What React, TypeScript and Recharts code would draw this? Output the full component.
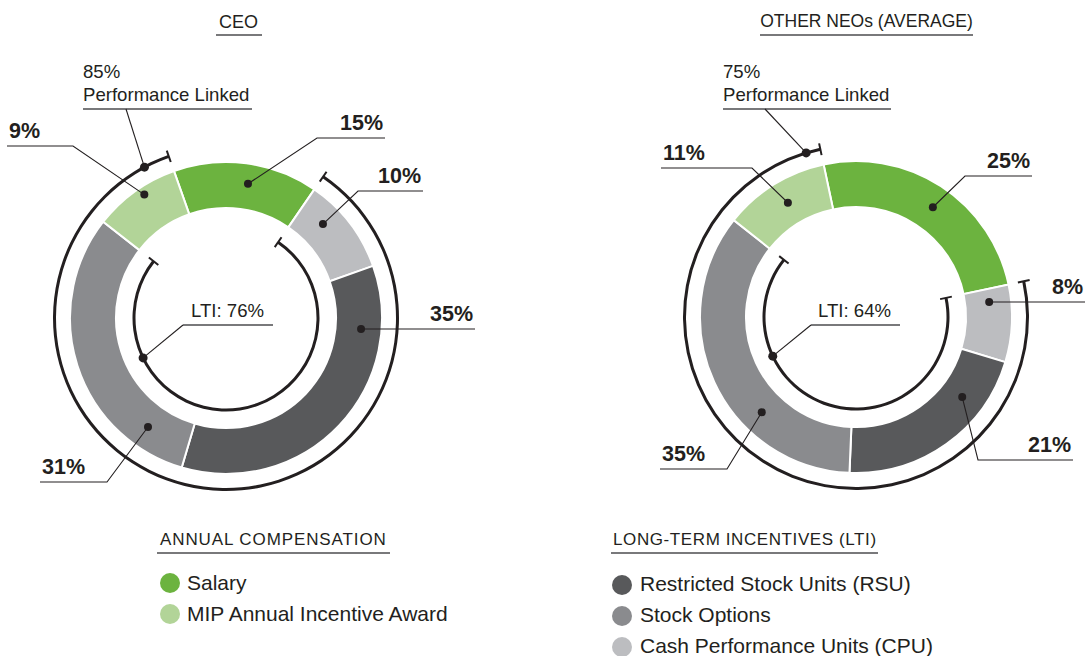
import React from "react";
import { PieChart, Pie, Cell } from "recharts";

// ---- data ----
const categories = [
  "Salary",
  "Cash Performance Units (CPU)",
  "Restricted Stock Units (RSU)",
  "Stock Options",
  "MIP Annual Incentive Award",
];
const ceoValues = [15, 10, 35, 31, 9];
const neoValues = [25, 8, 21, 35, 11];
const colors = ["#6cb33f", "#bcbdc0", "#58595b", "#8a8b8e", "#b2d498"];
const ltiIndex = [1, 2, 3]; // CPU, RSU, Options
const chartTitles = ["CEO", "OTHER NEOs (AVERAGE)"];
const annualLegend = ["Salary", "MIP Annual Incentive Award"];
const annualLegendColors = [colors[0], colors[4]];
const ltiLegend = ["Restricted Stock Units (RSU)", "Stock Options", "Cash Performance Units (CPU)"];
const ltiLegendColors = [colors[2], colors[3], colors[1]];

const FONT = "'Liberation Sans', Arial, Helvetica, sans-serif";
const INK = "#231f20";
const RULE = "#4d4d4f";

// label layout (offsets relative to each donut's centre)
const ceoLayout = [
  { off: 1.8, r: 136, ex: 91, ey: -180, end: 159 },
  { off: -6.6, r: 135, ex: 132, ey: -127, end: 197 },
  { off: -38.8, r: 135.5, ex: 135, ey: 11, end: 249 },
  { off: -36.7, r: 134, ex: -119, ey: 164, end: -186 },
  { off: 2.2, r: 148, ex: -153, ey: -172, end: -219 },
];
const neoLayout = [
  { off: 2, r: 134, ex: 109, ey: -141, end: 176 },
  { off: -8.8, r: 134, ex: 133, ey: -15, end: 229 },
  { off: -17.6, r: 133, ex: 122, ey: 143, end: 217 },
  { off: -20.7, r: 134, ex: -129, ey: 152, end: -196 },
  { off: 1, r: 133, ex: -104, ey: -149, end: -195 },
];
const perfLayout = [
  { off: -8.9, ex: -100, ey: -209, u1: -143, u2: 26, tx: -143 },
  { off: -4.9, ex: -91, ey: -208, u1: -133, u2: 35, tx: -133 },
];
const ltiLayout = [
  { off: -63.8, ex: -43, ey: 7, u1: -43, u2: 47, tx: -35 },
  { off: -63.6, ex: -45, ey: 8, u1: -45, u2: 44, tx: -38 },
];

const charts = [
  { values: ceoValues, cx: 226, cy: 318, start: 109.5, layout: ceoLayout },
  { values: neoValues, cx: 856, cy: 317, start: 102, layout: neoLayout },
];

const rad = (d: number) => (d * Math.PI) / 180;
// recharts angle (ccw from 3 o'clock) -> point
const polar = (cx: number, cy: number, r: number, a: number) => ({
  x: cx + r * Math.cos(rad(a)),
  y: cy - r * Math.sin(rad(a)),
});

function Tick({ cx, cy, r, a }: any) {
  const p1 = polar(cx, cy, r - 6, a);
  const p2 = polar(cx, cy, r + 6, a);
  return <line x1={p1.x} y1={p1.y} x2={p2.x} y2={p2.y} stroke={INK} strokeWidth={2} />;
}

function sliceLabel(layout: any[], values: number[]) {
  return (props: any) => {
    const { cx, cy, startAngle, endAngle, index } = props;
    const l = layout[index];
    const mid = (startAngle + endAngle) / 2;
    const d = polar(cx, cy, l.r, mid - l.off);
    const ex = cx + l.ex;
    const ey = cy + l.ey;
    const endX = cx + l.end;
    const right = l.end > 0;
    return (
      <g>
        <polyline
          points={`${d.x},${d.y} ${ex},${ey} ${endX},${ey}`}
          fill="none"
          stroke={INK}
          strokeWidth={1.1}
        />
        <circle cx={d.x} cy={d.y} r={4} fill={INK} />
        <text
          x={right ? endX - 2 : endX + 2}
          y={ey - 8.5}
          textAnchor={right ? "end" : "start"}
          fontFamily={FONT}
          fontSize={21.5}
          fontWeight={700}
          fill={INK}
        >
          {values[index]}%
        </text>
      </g>
    );
  };
}

function ringLabel(ring: any[], lay: any, lines: string[], ringR: number) {
  return (props: any) => {
    const { cx, cy, startAngle, endAngle, index } = props;
    if (!ring[index].on) return <g />;
    const d = polar(cx, cy, ringR, endAngle - lay.off);
    const ex = cx + lay.ex;
    const ey = cy + lay.ey;
    return (
      <g>
        <Tick cx={cx} cy={cy} r={ringR} a={startAngle} />
        <Tick cx={cx} cy={cy} r={ringR} a={endAngle} />
        <line x1={cx + lay.u1} y1={ey} x2={cx + lay.u2} y2={ey} stroke={RULE} strokeWidth={1.6} />
        <line x1={d.x} y1={d.y} x2={ex} y2={ey} stroke={INK} strokeWidth={1.1} />
        <circle cx={d.x} cy={d.y} r={4.5} fill={INK} />
        {lines.map((t, i) => (
          <text
            key={i}
            x={cx + lay.tx}
            y={ey - 8 - (lines.length - 1 - i) * 23}
            fontFamily={FONT}
            fontSize={18.6}
            fill={INK}
          >
            {t}
          </text>
        ))}
      </g>
    );
  };
}

export default function App() {
  return (
    <div style={{ position: "absolute", left: 0, top: 0, width: 1092, height: 656, background: "#fff" }}>
      <PieChart width={1092} height={656} margin={{ top: 0, right: 0, bottom: 0, left: 0 }}>
        {charts.map((c, ci) => {
          const data = c.values.map((v, i) => ({ name: categories[i], value: v }));
          const salary = c.values[0];
          const perf = c.values.reduce((s, v) => s + v, 0) - salary;
          const lti = ltiIndex.reduce((s, i) => s + c.values[i], 0);
          const mip = c.values[4];
          const outerRing = [
            { name: "Salary", value: salary, on: false },
            { name: "Performance Linked", value: perf, on: true },
          ];
          const innerRing = [
            { name: "Salary", value: salary, on: false },
            { name: "LTI", value: lti, on: true },
            { name: "MIP", value: mip, on: false },
          ];
          return [
            <Pie
              key={`d${ci}`}
              data={data}
              dataKey="value"
              cx={c.cx}
              cy={c.cy}
              innerRadius={110}
              outerRadius={156}
              startAngle={c.start}
              endAngle={c.start - 360}
              stroke="#fff"
              strokeWidth={2}
              isAnimationActive={false}
              labelLine={false}
              label={sliceLabel(c.layout, c.values)}
            >
              {data.map((_, i) => (
                <Cell key={i} fill={colors[i]} />
              ))}
            </Pie>,
            <Pie
              key={`o${ci}`}
              data={outerRing}
              dataKey="value"
              cx={c.cx}
              cy={c.cy}
              innerRadius={170}
              outerRadius={173}
              startAngle={c.start}
              endAngle={c.start - 360}
              stroke="none"
              isAnimationActive={false}
              labelLine={false}
              label={ringLabel(outerRing, perfLayout[ci], [`${perf}%`, "Performance Linked"], 171.5)}
            >
              {outerRing.map((r, i) => (
                <Cell key={i} fill={r.on ? INK : "none"} />
              ))}
            </Pie>,
            <Pie
              key={`i${ci}`}
              data={innerRing}
              dataKey="value"
              cx={c.cx}
              cy={c.cy}
              innerRadius={90.5}
              outerRadius={93.5}
              startAngle={c.start}
              endAngle={c.start - 360}
              stroke="none"
              isAnimationActive={false}
              labelLine={false}
              label={ringLabel(innerRing, ltiLayout[ci], [`LTI: ${lti}%`], 92)}
            >
              {innerRing.map((r, i) => (
                <Cell key={i} fill={r.on ? INK : "none"} />
              ))}
            </Pie>,
          ];
        })}
      </PieChart>
      <svg
        width={1092}
        height={656}
        style={{ position: "absolute", left: 0, top: 0, pointerEvents: "none" }}
        fontFamily={FONT}
        fill={INK}
      >
        <text x={238.5} y={28} textAnchor="middle" fontSize={18}>{chartTitles[0]}</text>
        <line x1={216} y1={35} x2={262} y2={35} stroke={RULE} strokeWidth={1.6} />
        <text x={866.5} y={27} textAnchor="middle" fontSize={17.5}>{chartTitles[1]}</text>
        <line x1={760} y1={35} x2={973} y2={35} stroke={RULE} strokeWidth={1.6} />

        <text x={160} y={545} fontSize={17} letterSpacing={0.9}>ANNUAL COMPENSATION</text>
        <line x1={157} y1={553} x2={390} y2={553} stroke={RULE} strokeWidth={1.6} />
        {annualLegend.map((t, i) => (
          <g key={t}>
            <circle cx={170} cy={583 + i * 31} r={10} fill={annualLegendColors[i]} />
            <text x={187} y={590 + i * 31} fontSize={21}>{t}</text>
          </g>
        ))}

        <text x={613} y={545} fontSize={17} letterSpacing={0.6}>LONG-TERM INCENTIVES (LTI)</text>
        <line x1={611} y1={553} x2={878} y2={553} stroke={RULE} strokeWidth={1.6} />
        {ltiLegend.map((t, i) => (
          <g key={t}>
            <circle cx={622} cy={585 + i * 31} r={10} fill={ltiLegendColors[i]} />
            <text x={640} y={591 + i * 31} fontSize={21}>{t}</text>
          </g>
        ))}
      </svg>
    </div>
  );
}
